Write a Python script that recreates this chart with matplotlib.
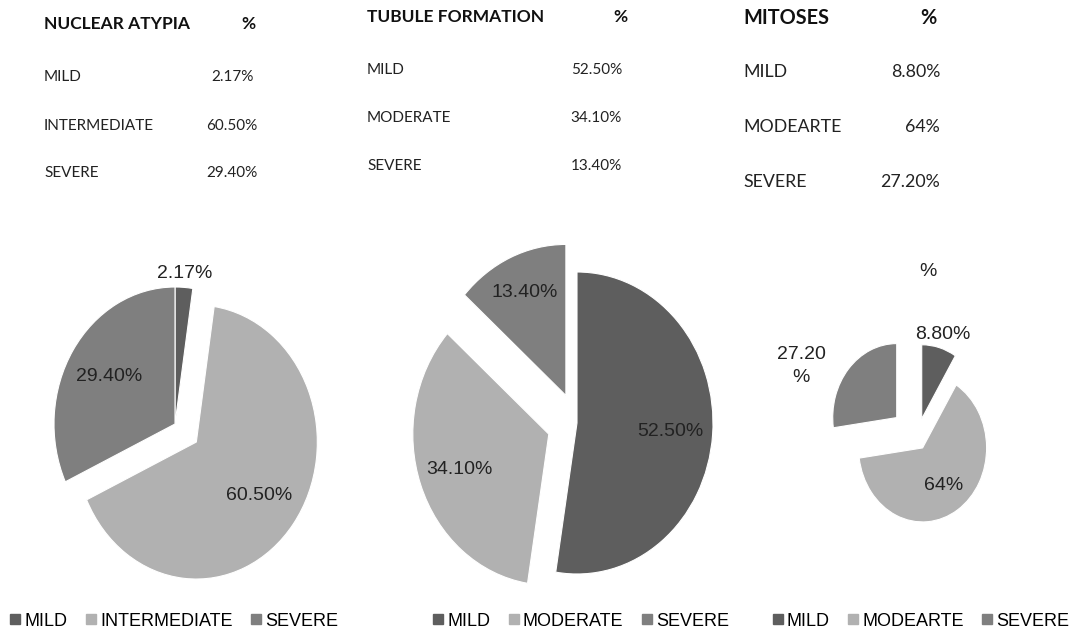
import numpy as np
import matplotlib.pyplot as plt
from matplotlib.lines import Line2D

W, H = 1072, 637

GREYS = ['#5e5e5e', '#b1b1b1', '#7f7f7f']

NA_TITLE = 'NUCLEAR ATYPIA'
NA_CATS = ['MILD', 'INTERMEDIATE', 'SEVERE']
NA_VALUES = [2.17, 60.50, 29.40]
NA_TEXT = ['2.17%', '60.50%', '29.40%']

TF_TITLE = 'TUBULE FORMATION'
TF_CATS = ['MILD', 'MODERATE', 'SEVERE']
TF_VALUES = [52.50, 34.10, 13.40]
TF_TEXT = ['52.50%', '34.10%', '13.40%']

MI_TITLE = 'MITOSES'
MI_CATS = ['MILD', 'MODEARTE', 'SEVERE']
MI_VALUES = [8.80, 64, 27.20]
MI_TEXT = ['8.80%', '64%', '27.20%']
MI_PIE_TEXT = ['8.80%', '64%', '27.20\n%']

TABLE_FONT = ['Lato', 'DejaVu Sans']
LABEL_FONT = ['Liberation Sans', 'DejaVu Sans']


def fx(x):
    return x / W


def fy(y):
    return 1 - y / H


def table(x0, xv, ys, size, title, cats, texts, ha_val):
    fig.text(fx(x0), fy(ys[0]), title, fontsize=size + 0.5, fontweight='bold',
             family=TABLE_FONT, va='center', ha='left', color='#111111')
    fig.text(fx(xv[0]), fy(ys[0]), '%', fontsize=size + 0.5, fontweight='bold',
             family=TABLE_FONT, va='center', ha='center', color='#111111')
    for i in range(len(cats)):
        fig.text(fx(x0), fy(ys[i + 1]), cats[i], fontsize=size - 1,
                 family=TABLE_FONT, va='center', ha='left', color='#222222')
        fig.text(fx(xv[1]), fy(ys[i + 1]), texts[i], fontsize=size - 1,
                 family=TABLE_FONT, va='center', ha=ha_val, color='#222222')


def pie(cx, cy, rx, ry, values, texts, explode, dists, shifts):
    # axes sized so one data unit is rx px wide and ry px tall
    half_w, half_h = 190, 180
    ax = fig.add_axes([fx(cx - half_w), fy(cy + half_h), 2 * half_w / W, 2 * half_h / H])
    wedges, _ = ax.pie(values, colors=GREYS, startangle=90, counterclock=False,
                       explode=explode, radius=1,
                       wedgeprops=dict(edgecolor='white', linewidth=0.8))
    ax.set_aspect('auto')
    ax.set_xlim(-half_w / rx, half_w / rx)
    ax.set_ylim(-half_h / ry, half_h / ry)
    ax.axis('off')

    for w, t, d, s in zip(wedges, texts, dists, shifts):
        mid = np.deg2rad((w.theta1 + w.theta2) / 2 + s)
        x = w.center[0] + d * np.cos(mid)
        y = w.center[1] + d * np.sin(mid)
        ax.text(x, y, t, ha='center', va='center', fontsize=14, family=LABEL_FONT,
                color='#222222', linespacing=1.5)
    return wedges


def legend(x, cats):
    handles = [Line2D([], [], marker='s', linestyle='none', markersize=7,
                      markerfacecolor=c, markeredgecolor=c) for c in GREYS]
    fig.legend(handles, cats, loc='center', bbox_to_anchor=(fx(x), fy(621)),
               ncol=3, frameon=False, handletextpad=0.1, columnspacing=0.9,
               handlelength=0.8, borderpad=0,
               prop={'family': LABEL_FONT, 'size': 13})


fig = plt.figure(figsize=(W / 100, H / 100), dpi=100)

table(44, (248, 232), [24, 77, 126, 173], 12, NA_TITLE, NA_CATS, NA_TEXT, 'center')
table(367, (620, 622), [17, 70, 118, 166], 12, TF_TITLE, TF_CATS, TF_TEXT, 'right')
table(743, (928, 940), [18, 72, 127, 182], 13.8, MI_TITLE, MI_CATS, MI_TEXT, 'right')

pie(175, 424, 121, 137, NA_VALUES, NA_TEXT, [0, 0.22, 0],
    [1.1, 0.65, 0.65], [0, 0, 0])
pie(577, 423, 136, 151, TF_VALUES, TF_TEXT, [0, 0.22, 0.2],
    [0.69, 0.7, 0.75], [0, 0, 0])
pie(917, 438, 64, 74, MI_VALUES, MI_PIE_TEXT, [0.27, 0.16, 0.42],
    [1.18, 0.6, 1.65], [0, 0, 16])

fig.text(fx(928), fy(272), '%', fontsize=14, family=LABEL_FONT,
         ha='center', va='center', color='#222222')

legend(173, NA_CATS)
legend(580, TF_CATS)
legend(920, MI_CATS)

fig.savefig('out.png', dpi=100, facecolor='white')
